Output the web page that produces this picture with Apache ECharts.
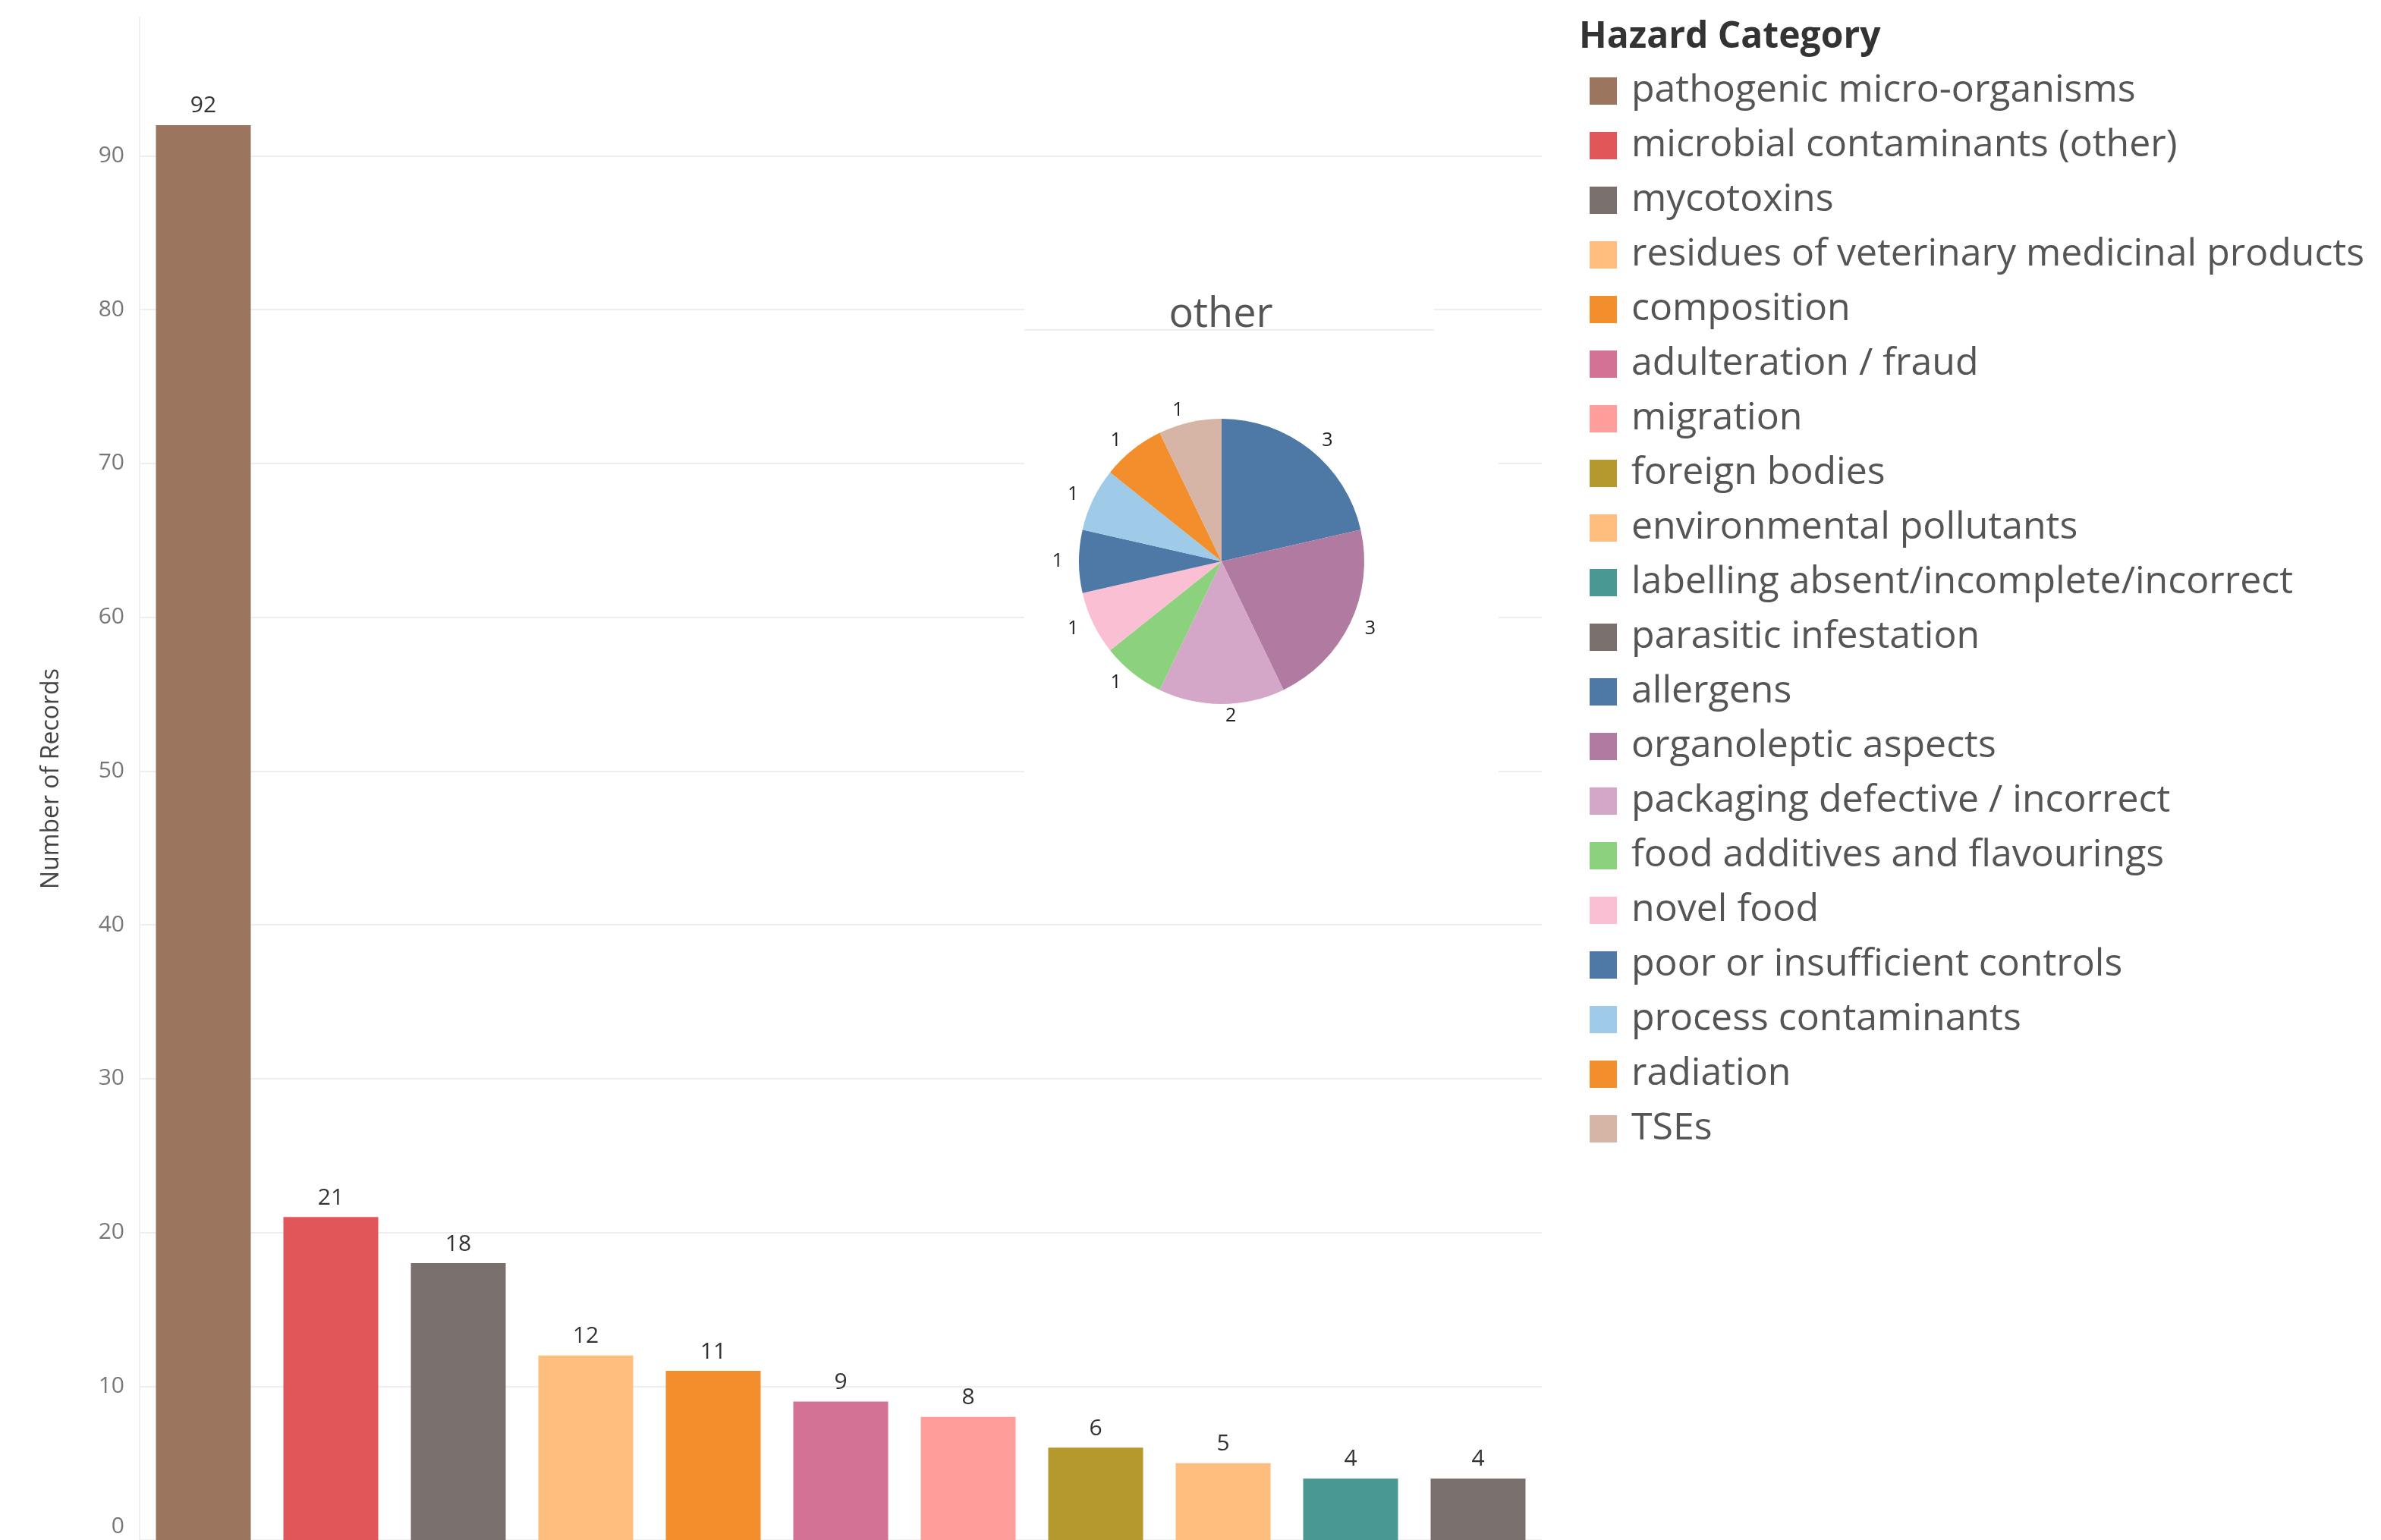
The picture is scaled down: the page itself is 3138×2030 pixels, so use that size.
<!DOCTYPE html>
<html>
<head>
<meta charset="utf-8">
<title>Hazard Category</title>
<script src="https://cdn.jsdelivr.net/npm/echarts@6/dist/echarts.min.js"></script>
<style>
    html, body { margin: 0; padding: 0; background: #fff; }
    #main { width: 3138px; height: 2030px; }
</style>
</head>
<body>
<div id="main"></div>
<script>
    // bar part: hazard categories with their record counts
    var barCategories = [
        'pathogenic micro-organisms',
        'microbial contaminants (other)',
        'mycotoxins',
        'residues of veterinary medicinal products',
        'composition',
        'adulteration / fraud',
        'migration',
        'foreign bodies',
        'environmental pollutants',
        'labelling absent/incomplete/incorrect',
        'parasitic infestation'
    ];
    var barValues = [92, 21, 18, 12, 11, 9, 8, 6, 5, 4, 4];
    var barColors = ['#9C755F', '#E15759', '#79706E', '#FFBE7D', '#F28E2B', '#D37295',
        '#FF9D9A', '#B6992D', '#FFBE7D', '#499894', '#79706E'];

    // pie part: the "other" group
    var otherCategories = [
        'allergens',
        'organoleptic aspects',
        'packaging defective / incorrect',
        'food additives and flavourings',
        'novel food',
        'poor or insufficient controls',
        'process contaminants',
        'radiation',
        'TSEs'
    ];
    var otherValues = [3, 3, 2, 1, 1, 1, 1, 1, 1];
    var otherColors = ['#4E79A7', '#B07AA1', '#D4A6C8', '#8CD17D', '#FABFD2', '#4E79A7',
        '#A0CBE8', '#F28E2B', '#D7B5A6'];

    var yTicks = [0, 10, 20, 30, 40, 50, 60, 70, 80, 90];

    var font = '"Open Sans", "Noto Sans", sans-serif';
    var myChart = echarts.init(document.getElementById('main'));

    // one stacked series per category so every bar gets its own legend entry
    var series = [];
    for (var i = 0; i < barCategories.length; i++) {
        var data = [];
        for (var j = 0; j < barValues.length; j++) {
            data.push(j === i ? barValues[j] : '-');
        }
        series.push({
            name: barCategories[i],
            type: 'bar',
            stack: 'records',
            barWidth: 125,
            data: data,
            itemStyle: { color: barColors[i] },
            label: {
                show: true,
                position: 'top',
                distance: 10,
                fontFamily: font,
                fontSize: 30,
                color: '#333'
            }
        });
    }

    var pieData = [];
    for (var k = 0; k < otherCategories.length; k++) {
        pieData.push({
            name: otherCategories[k],
            value: otherValues[k],
            itemStyle: { color: otherColors[k] }
        });
    }
    series.push({
        name: 'other',
        type: 'pie',
        center: [1610, 740],
        radius: [0, 188],
        startAngle: 90,
        z: 5,
        data: pieData,
        label: {
            show: true,
            position: 'outside',
            formatter: '{c}',
            fontFamily: font,
            fontSize: 25,
            color: '#222'
        },
        labelLine: { show: false, length: 16, length2: 0 },
        emphasis: { scale: false }
    });

    var option = {
        backgroundColor: '#fff',
        animation: false,
        title: [{
            text: 'Hazard Category',
            left: 2076,
            top: 20,
            textStyle: { fontFamily: font, fontSize: 48, fontWeight: 'bold', color: '#333' }
        }, {
            text: 'other',
            left: 1604,
            top: 384,
            textAlign: 'center',
            z: 6,
            textStyle: { fontFamily: font, fontSize: 54, fontWeight: 'normal', color: '#555' }
        }],
        // white floating panel behind the pie
        graphic: [{
            type: 'rect',
            z: 1,
            shape: { x: 1350, y: 385, width: 540, height: 50 },
            style: { fill: '#fff' }
        }, {
            type: 'rect',
            z: 1,
            shape: { x: 1350, y: 435, width: 625, height: 600 },
            style: { fill: '#fff' }
        }, {
            type: 'line',
            z: 2,
            shape: { x1: 1350, y1: 435, x2: 1890, y2: 435 },
            style: { stroke: '#eee', lineWidth: 2 }
        }],
        legend: {
            orient: 'vertical',
            left: 2090,
            top: 90,
            icon: 'rect',
            itemWidth: 36,
            itemHeight: 36,
            itemGap: 22,
            selectedMode: false,
            data: barCategories.concat(otherCategories),
            textStyle: {
                fontFamily: font,
                fontSize: 50,
                color: '#555',
                padding: [0, 0, 0, 14]
            }
        },
        grid: {
            left: 184,
            width: 1848,
            top: 23,
            bottom: -3
        },
        xAxis: {
            type: 'category',
            data: barCategories,
            axisLine: { show: false },
            axisTick: { show: false },
            axisLabel: { show: false }
        },
        yAxis: {
            type: 'value',
            min: 0,
            max: 99,
            interval: 10,
            name: 'Number of Records',
            nameLocation: 'middle',
            nameGap: 100,
            nameTextStyle: { fontFamily: font, fontSize: 32, color: '#444' },
            axisLine: { show: true, lineStyle: { color: '#eee', width: 2 } },
            axisTick: { show: false },
            axisLabel: {
                fontFamily: font,
                fontSize: 30,
                color: '#777',
                margin: 20,
                showMaxLabel: false,
                formatter: function(v) {
                    if (yTicks.indexOf(v) < 0) return '';
                    return v === 0 ? '{z|0}' : String(v);
                },
                rich: { z: { fontFamily: font, fontSize: 30, color: '#777', padding: [0, 0, 36, 0] } }
            },
            splitLine: { show: true, showMaxLine: false, lineStyle: { color: '#eee', width: 2 } }
        },
        series: series
    };
    myChart.setOption(option);
</script>
</body>
</html>
